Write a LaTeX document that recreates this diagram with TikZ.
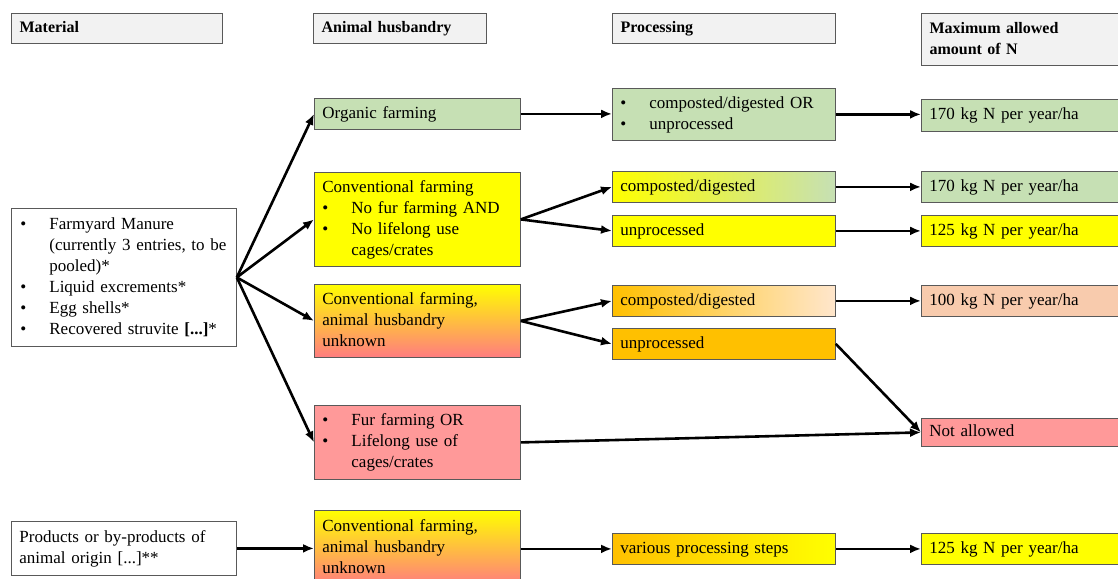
\documentclass[tikz,border=0pt]{standalone}
\usepackage{fontspec}
\setmainfont{Liberation Serif}
\usetikzlibrary{arrows.meta}

\definecolor{headgray}{HTML}{F2F2F2}
\definecolor{framegray}{HTML}{595959}
\definecolor{leafgreen}{HTML}{C6E0B4}
\definecolor{signyellow}{HTML}{FFFF00}
\definecolor{deeporange}{HTML}{FFC000}
\definecolor{peach}{HTML}{F8CBAD}
\definecolor{palepeach}{HTML}{FFE6CC}
\definecolor{rosered}{HTML}{FF9999}
\definecolor{salmon}{HTML}{FF7C80}

\newcommand{\bul}{\makebox[29pt][l]{\textbullet}}
\newcommand{\ind}{\hspace*{29pt}}

\tikzset{
  box/.style={draw=framegray,line width=0.8pt,rectangle,anchor=north west,
    align=left,inner xsep=8pt,inner ysep=0pt,
    font=\fontsize{17}{21}\selectfont,
    execute at begin node=\strut,execute at end node=\strut},
  head/.style={box,fill=headgray,line width=1.2pt,
    font=\fontsize{16}{21}\selectfont\bfseries},
  arr/.style={-{Latex[length=11pt,width=9pt]},line width=2.6pt},
}

\begin{document}
\begin{tikzpicture}[x=1pt,y=-1pt]
\useasboundingbox (0,0) rectangle (1118,578);
\clip (0,0) rectangle (1118,578);

% column heads
\node[head,text width=195pt,minimum height=30pt] (hmat) at (11,13) {Material};
\node[head,text width=157pt,minimum height=30pt] (hani) at (313,13) {Animal husbandry};
\node[head,text width=207pt,minimum height=30pt] (hpro) at (612,13) {Processing};
\node[head,text width=189pt,minimum height=52pt] (hmax) at (921,13) {Maximum allowed\\amount of N};

% materials
\node[box,inner xsep=6pt,text width=213pt,minimum height=138pt] (mat) at (11,208)
  {\hspace*{3pt}\bul Farmyard Manure\\ \hspace*{3pt}\ind (currently 3 entries, to be\\ \hspace*{3pt}\ind pooled)*\\
   \hspace*{3pt}\bul Liquid excrements*\\ \hspace*{3pt}\bul Egg shells*\\ \hspace*{3pt}\bul Recovered struvite \textbf{[...]}*};
\node[box,text width=209pt,minimum height=54pt] (prod) at (11,521)
  {Products or by-products of\\animal origin [...]**};

% animal husbandry
\node[box,fill=leafgreen,text width=190pt,minimum height=31pt] (org) at (314,98) {Organic farming};
\node[box,fill=signyellow,text width=190pt,minimum height=94pt] (conv) at (314,172)
  {Conventional farming\\ \bul No fur farming AND\\ \bul No lifelong use\\ \ind cages/crates};
\node[box,top color=signyellow,bottom color=salmon,text width=190pt,minimum height=73pt] (unk) at (314,284)
  {Conventional farming,\\animal husbandry\\unknown};
\node[box,fill=rosered,text width=190pt,minimum height=74pt] (fur) at (314,405)
  {\bul Fur farming OR\\ \bul Lifelong use of\\ \ind cages/crates};
\node[box,top color=signyellow,bottom color=salmon,text width=190pt,minimum height=75pt] (unkb) at (314,510)
  {Conventional farming,\\animal husbandry\\unknown};

% processing
\node[box,fill=leafgreen,text width=207pt,minimum height=52pt] (proa) at (612,88)
  {\bul composted/digested OR\\ \bul unprocessed};
\node[box,left color=signyellow,right color=leafgreen,text width=207pt,minimum height=31pt] (compa) at (612,171) {composted/digested};
\node[box,fill=signyellow,text width=207pt,minimum height=31pt] (unpa) at (612,215) {unprocessed};
\node[box,left color=deeporange,right color=palepeach,text width=207pt,minimum height=31pt] (compb) at (612,285) {composted/digested};
\node[box,fill=deeporange,text width=207pt,minimum height=31pt] (unpb) at (612,328) {unprocessed};
\node[box,left color=deeporange,right color=signyellow,text width=207pt,minimum height=31pt] (vari) at (612,533) {various processing steps};

% maximum amount of N
\node[box,fill=leafgreen,text width=189pt,minimum height=32pt] (maxa) at (921,99) {170 kg N per year/ha};
\node[box,fill=leafgreen,text width=189pt,minimum height=31pt] (maxb) at (921,171) {170 kg N per year/ha};
\node[box,fill=signyellow,text width=189pt,minimum height=31pt] (maxc) at (921,215) {125 kg N per year/ha};
\node[box,fill=peach,text width=189pt,minimum height=31pt] (maxd) at (921,285) {100 kg N per year/ha};
\node[box,fill=rosered,text width=189pt,minimum height=28pt] (notok) at (921,418) {Not allowed};
\node[box,fill=signyellow,text width=189pt,minimum height=31pt] (maxe) at (921,533) {125 kg N per year/ha};

% connectors
\draw[arr] (mat.east) -- (org.west);
\draw[arr] (mat.east) -- (conv.west);
\draw[arr] (mat.east) -- (unk.west);
\draw[arr] (mat.east) -- (fur.west);
\draw[arr] (prod.east) -- (prod.east -| unkb.west);
\draw[arr] (org.east) -- (org.east -| proa.west);
\draw[arr] (conv.east) -- (compa.west);
\draw[arr] (conv.east) -- (unpa.west);
\draw[arr] (unk.east) -- (compb.west);
\draw[arr] (unk.east) -- (unpb.west);
\draw[arr] (unkb.east |- vari.west) -- (vari.west);
\draw[arr] (proa.east) -- (proa.east -| maxa.west);
\draw[arr] (compa.east) -- (maxb.west);
\draw[arr] (unpa.east) -- (maxc.west);
\draw[arr] (compb.east) -- (maxd.west);
\draw[arr] (unpb.east) -- (notok.west);
\draw[arr] (fur.east) -- (notok.west);
\draw[arr] (vari.east) -- (maxe.west);
\end{tikzpicture}
\end{document}
